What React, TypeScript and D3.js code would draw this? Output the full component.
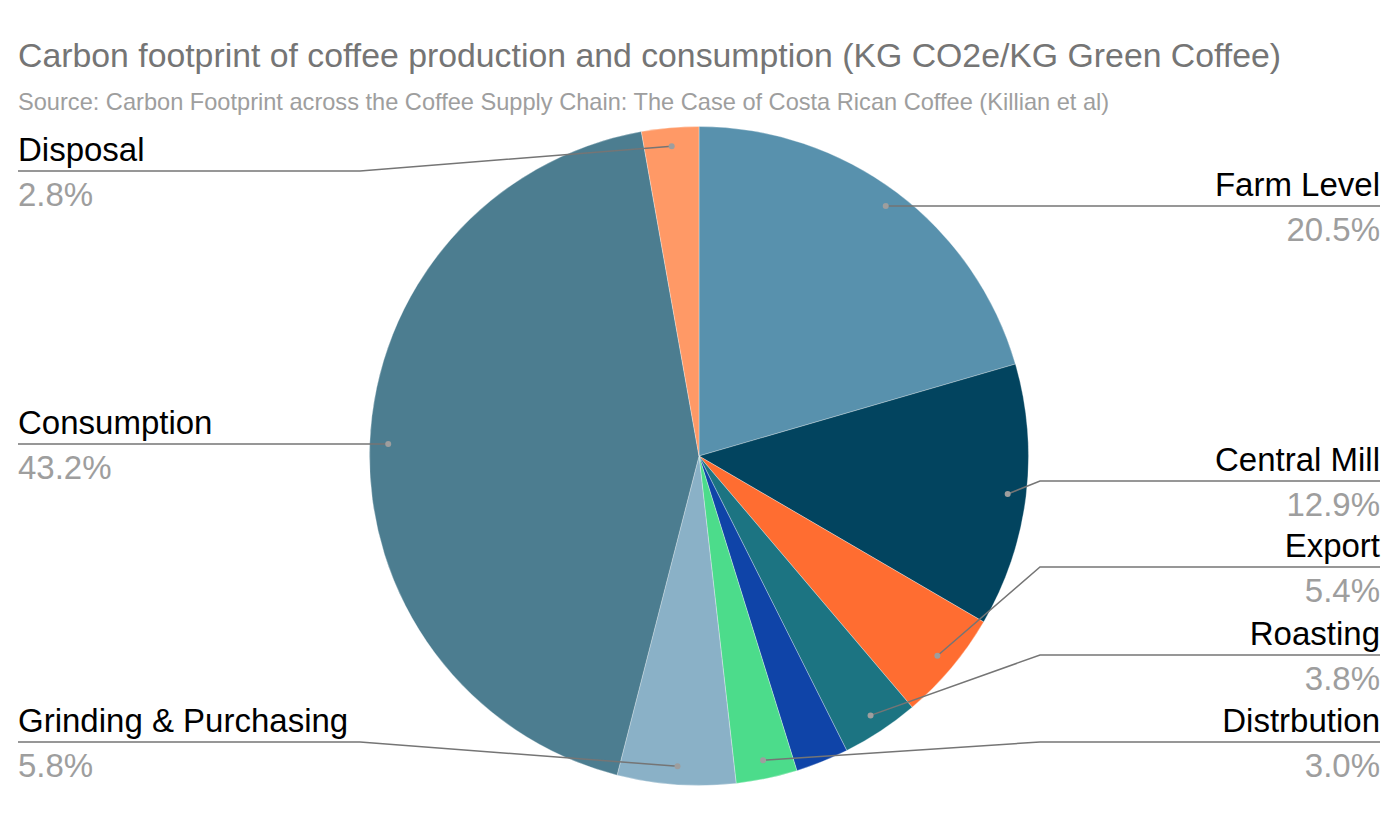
import React from "react";
import * as d3 from "d3";

// Stages of the coffee supply chain, clockwise from 12 o'clock
const categories = [
  "Farm Level",
  "Central Mill",
  "Export",
  "Roasting",
  "Packaging",
  "Distrbution",
  "Grinding & Purchasing",
  "Consumption",
  "Disposal",
];
// Share of total footprint (%)
const shares = [20.5, 12.9, 5.4, 3.8, 2.6, 3.0, 5.8, 43.2, 2.8];
const sliceColors = [
  "#5891AD",
  "#02445F",
  "#FF6D31",
  "#1C7482",
  "#0F44A8",
  "#4CDC8B",
  "#8AB1C7",
  "#4C7D90",
  "#FF9966",
];

// Leader-label placement per labelled slice (index into categories)
const labelLayout = [
  { i: 0, side: "right", lineY: 206, elbowX: null },
  { i: 1, side: "right", lineY: 481, elbowX: 1040 },
  { i: 2, side: "right", lineY: 567, elbowX: 1040 },
  { i: 3, side: "right", lineY: 655, elbowX: 1040 },
  { i: 5, side: "right", lineY: 742, elbowX: 1040 },
  { i: 8, side: "left", lineY: 171, elbowX: 360 },
  { i: 7, side: "left", lineY: 444, elbowX: null },
  { i: 6, side: "left", lineY: 742, elbowX: 360 },
];

const W = 1400;
const H = 827;
const cx = 699;
const cy = 456;
const R = 329.5;
const dotR = 311;
const leftX = 18;
const rightX = 1380;
const FONT = "'Liberation Sans', Arial, sans-serif";

export default function App() {
  const pie = d3
    .pie<number>()
    .sort(null)
    .value((d) => d)
    .startAngle(0)
    .endAngle(2 * Math.PI);
  const arcs = pie(shares);
  const arc = d3.arc<d3.PieArcDatum<number>>().innerRadius(0).outerRadius(R);
  const total = d3.sum(shares);

  return (
    <svg
      width={W}
      height={H}
      style={{ position: "absolute", left: 0, top: 0, background: "#fff" }}
      fontFamily={FONT}
    >
      <text x={18} y={67} fontSize={33.8} fill="#757575">
        Carbon footprint of coffee production and consumption (KG CO2e/KG Green Coffee)
      </text>
      <text x={18} y={110} fontSize={23.6} fill="#9e9e9e">
        Source: Carbon Footprint across the Coffee Supply Chain: The Case of Costa Rican Coffee (Killian et al)
      </text>

      <g transform={`translate(${cx},${cy})`}>
        {arcs.map((a, k) => (
          <path
            key={k}
            d={arc(a) || ""}
            fill={sliceColors[k]}
            stroke="#ffffff"
            strokeOpacity={0.5}
            strokeWidth={0.6}
          />
        ))}
      </g>

      {labelLayout.map((L) => {
        const a = arcs[L.i];
        const mid = (a.startAngle + a.endAngle) / 2;
        const px = cx + dotR * Math.sin(mid);
        const py = cy - dotR * Math.cos(mid);
        const endX = L.side === "right" ? rightX : leftX;
        const pts: [number, number][] = [[px, py]];
        if (L.elbowX !== null) pts.push([L.elbowX, L.lineY]);
        else pts[0] = [px, L.lineY];
        pts.push([endX, L.lineY]);
        const line = d3.line()(pts) || "";
        const anchor = L.side === "right" ? "end" : "start";
        const pct = ((shares[L.i] / total) * 100).toFixed(1) + "%";
        return (
          <g key={L.i}>
            <path d={line} fill="none" stroke="#757575" strokeWidth={1.5} />
            <circle cx={pts[0][0]} cy={pts[0][1]} r={3} fill="#9e9e9e" />
            <text x={endX} y={L.lineY - 10} fontSize={33} fill="#000" textAnchor={anchor}>
              {categories[L.i]}
            </text>
            <text x={endX} y={L.lineY + 35} fontSize={33} fill="#9e9e9e" textAnchor={anchor}>
              {pct}
            </text>
          </g>
        );
      })}
    </svg>
  );
}
